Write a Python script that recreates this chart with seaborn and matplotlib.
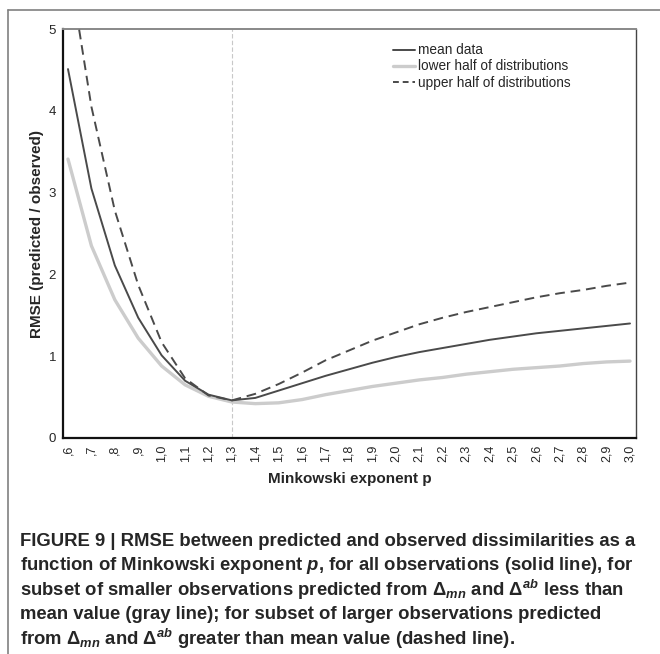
import numpy as np
import pandas as pd
import matplotlib
matplotlib.use("Agg")
import matplotlib.pyplot as plt
import seaborn as sns
from matplotlib.lines import Line2D

sns.set_style("white")
plt.rcParams['font.family'] = ['Liberation Sans', 'DejaVu Sans']
plt.rcParams['mathtext.fontset'] = 'custom'
plt.rcParams['mathtext.rm'] = 'Liberation Sans:bold'
plt.rcParams['mathtext.it'] = 'Liberation Sans:italic:bold'
plt.rcParams['mathtext.bf'] = 'Liberation Sans:bold'

# minkowski exponent p
p_values = [0.6, 0.7, 0.8, 0.9, 1.0, 1.1, 1.2, 1.3, 1.4, 1.5, 1.6, 1.7, 1.8,
            1.9, 2.0, 2.1, 2.2, 2.3, 2.4, 2.5, 2.6, 2.7, 2.8, 2.9, 3.0]
tick_labels = [',6', ',7', ',8', ',9', '1,0', '1,1', '1,2', '1,3', '1,4', '1,5',
               '1,6', '1,7', '1,8', '1,9', '2,0', '2,1', '2,2', '2,3', '2,4',
               '2,5', '2,6', '2,7', '2,8', '2,9', '3,0']

mean_data = [4.51, 3.05, 2.11, 1.47, 1.01, 0.70, 0.53, 0.46, 0.49, 0.58, 0.67,
             0.76, 0.84, 0.92, 0.99, 1.05, 1.10, 1.15, 1.20, 1.24, 1.28, 1.31,
             1.34, 1.37, 1.40]
lower_half = [3.41, 2.35, 1.69, 1.22, 0.88, 0.65, 0.51, 0.44, 0.42, 0.43, 0.47,
              0.53, 0.58, 0.63, 0.67, 0.71, 0.74, 0.78, 0.81, 0.84, 0.86, 0.88,
              0.91, 0.93, 0.94]
upper_half = [5.85, 4.05, 2.78, 1.87, 1.17, 0.73, 0.52, 0.46, 0.54, 0.66, 0.80,
              0.95, 1.07, 1.19, 1.29, 1.39, 1.47, 1.54, 1.60, 1.66, 1.72, 1.77,
              1.81, 1.86, 1.90]

caption_lines = [
    "FIGURE 9 | RMSE between predicted and observed dissimilarities as a",
    "function of Minkowski exponent $p$, for all observations (solid line), for",
    r"subset of smaller observations predicted from $\Delta_{mn}$ and $\Delta^{ab}$ less than",
    "mean value (gray line); for subset of larger observations predicted",
    r"from $\Delta_{mn}$ and $\Delta^{ab}$ greater than mean value (dashed line).",
]

df = pd.DataFrame({'p': p_values, 'mean': mean_data, 'lower': lower_half, 'upper': upper_half})

fig = plt.figure(figsize=(6.6, 6.54), dpi=100)
ax = fig.add_axes([63 / 660, 1 - 438 / 654, 573 / 660, 409 / 654])

# vertical marker at the minimum
ax.axvline(1.3, color='#c8c8c8', lw=0.8, ls=(0, (4, 2)), zorder=1)

sns.lineplot(data=df, x='p', y='lower', ax=ax, color='#cccccc', lw=2.4, zorder=2)
sns.lineplot(data=df, x='p', y='mean', ax=ax, color='#4a4a4a', lw=1.4, zorder=3)
sns.lineplot(data=df, x='p', y='upper', ax=ax, color='#4a4a4a', lw=1.4, zorder=3)
ax.lines[-1].set_dashes((5, 3))

ax.set_xlim(0.5787, 3.0256)
ax.set_ylim(0, 5)
ax.set_xticks(p_values)
ax.set_xticklabels(tick_labels, rotation=90, fontsize=9)
ax.set_yticks([0, 1, 2, 3, 4, 5])
ax.set_yticklabels(['0', '1', '2', '3', '4', '5'], fontsize=9.5)
ax.tick_params(axis='x', direction='inout', length=8, width=1, color='#222222', pad=1)
ax.tick_params(axis='y', direction='out', length=4, width=1, color='#222222', pad=1)

for side in ['left', 'bottom']:
    ax.spines[side].set_color('#111111')
    ax.spines[side].set_linewidth(1.6)
ax.spines['top'].set_color('#888888')
ax.spines['top'].set_linewidth(1.4)
ax.spines['right'].set_color('#444444')
ax.spines['right'].set_linewidth(1.0)

ax.set_xlabel('Minkowski exponent p', fontsize=11, fontweight='bold', labelpad=7)
ax.set_ylabel('RMSE (predicted / observed)', fontsize=11, fontweight='bold', labelpad=3)

handles = [Line2D([], [], color='#4a4a4a', lw=1.4),
           Line2D([], [], color='#cccccc', lw=2.4),
           Line2D([], [], color='#4a4a4a', lw=1.4, dashes=(3, 2))]
ax.legend(handles, ['mean data', 'lower half of distributions', 'upper half of distributions'],
          loc='upper left', bbox_to_anchor=(0.566, 0.978), frameon=False, fontsize=9.8,
          handlelength=1.6, handletextpad=0.25, labelspacing=0.15, borderaxespad=0)

# outer frame, cut off at right and bottom
fig.add_artist(Line2D([8 / 660, 1], [1 - 10 / 654, 1 - 10 / 654], color='#808080', lw=1.2))
fig.add_artist(Line2D([8 / 660, 8 / 660], [0, 1 - 10 / 654], color='#808080', lw=1.2))

for i, line in enumerate(caption_lines):
    fig.text(20 / 660, 1 - (541 + 24.6 * i) / 654, line, fontsize=13.3, fontweight='bold',
             va='center', ha='left')

fig.savefig('out.png', dpi=100)
